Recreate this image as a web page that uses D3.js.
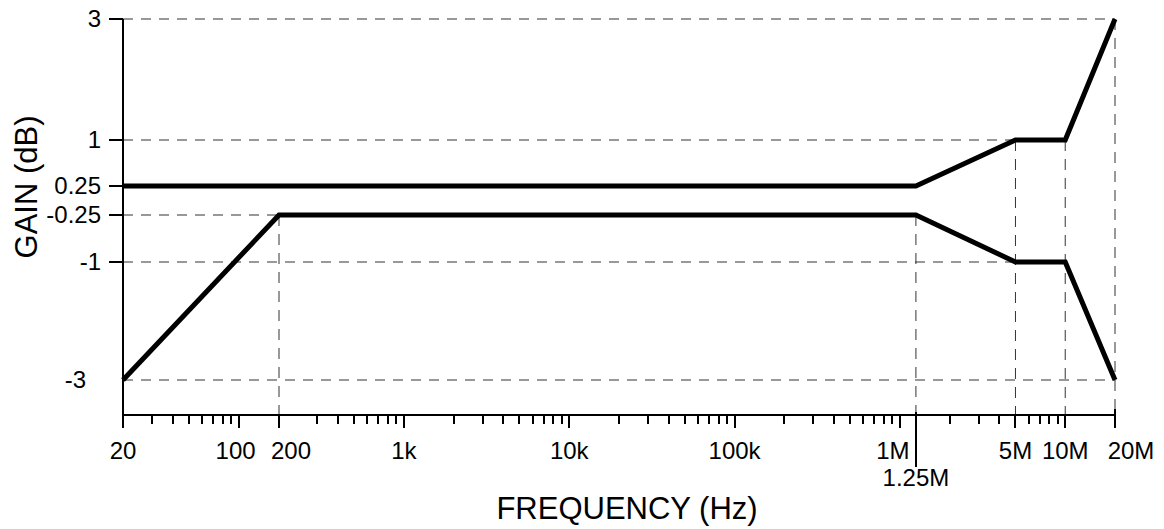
<!DOCTYPE html>
<html>
<head>
<meta charset="utf-8">
<script src="https://cdn.jsdelivr.net/npm/d3@7"></script>
<style>
  body { margin: 0; background: #fff; }
  svg { display: block; }
  text { font-family: "Liberation Sans", Arial, sans-serif; fill: #000; }
</style>
</head>
<body>
<svg id="chart" width="1164" height="529"></svg>
<script>
// Gain tolerance envelope (dB) versus frequency (Hz)
const freqUpper = [20, 1.25e6, 5e6, 1e7, 2e7];
const gainUpper = [0.25, 0.25, 1, 1, 3];
const freqLower = [20, 200, 1.25e6, 5e6, 1e7, 2e7];
const gainLower = [-3, -0.25, -0.25, -1, -1, -3];

// Axis ticks and labels
const gainTicks = [3, 1, 0.25, -0.25, -1, -3];
const gainTickLabels = ["3", "1", "0.25", "-0.25", "-1", "-3"];
const freqMajor = [20, 100, 200, 1e3, 1e4, 1e5, 1e6, 5e6, 1e7, 2e7];
const freqLabels = ["20", "100", "200", "1k", "10k", "100k", "1M", "5M", "10M", "20M"];
const cornerFreq = 1.25e6;
const cornerLabel = "1.25M";

// Dashed guide lines: horizontal [gain, end frequency], vertical [frequency, top gain]
const guideGain = [3, 1, -0.25, -1, -3];
const guideGainEnd = [2e7, 5e6, 200, 5e6, 2e7];
const guideFreq = [200, 1.25e6, 5e6, 1e7, 2e7];
const guideFreqTop = [-0.25, -0.25, 1, 1, 3];

const svg = d3.select("#chart");

// log frequency axis; the 200 Hz corner sits a little left of its true log position
const logX = d3.scaleLog().domain([20, 2e7]).range([123, 1115]);
const xPiece = d3.scaleLinear()
  .domain([20, 100, 200, 300, 2e7].map(Math.log10))
  .range([logX(20), logX(100), 279, logX(300), logX(2e7)]);
const x = f => xPiece(Math.log10(f));

// piecewise gain axis, expanded around 0 dB
const y = d3.scaleLinear().domain(gainTicks).range([19, 140, 186, 215, 262, 380]);
const axisY = 415;
const x0 = x(20);

// guides
const guides = svg.append("g")
  .attr("stroke", "#333").attr("stroke-width", 1).attr("fill", "none");
guides.selectAll("line.h").data(guideGain).join("line")
  .attr("class", "h")
  .attr("x1", x0).attr("x2", (d, i) => x(guideGainEnd[i]))
  .attr("y1", d => y(d)).attr("y2", d => y(d))
  .attr("stroke-dasharray", "10,8");
guides.selectAll("line.v").data(guideFreq).join("line")
  .attr("class", "v")
  .attr("x1", d => x(d)).attr("x2", d => x(d))
  .attr("y1", (d, i) => y(guideFreqTop[i])).attr("y2", axisY)
  .attr("stroke-dasharray", "11,8");

// axis lines
const axes = svg.append("g").attr("stroke", "#000").attr("shape-rendering", "crispEdges");
axes.append("line").attr("x1", x0).attr("x2", x0).attr("y1", y(3)).attr("y2", axisY + 13).attr("stroke-width", 2);
axes.append("line").attr("x1", x0).attr("x2", x(2e7)).attr("y1", axisY).attr("y2", axisY).attr("stroke-width", 2);

// y ticks (none at the bottom value)
axes.selectAll("line.yt").data(gainTicks.slice(0, -1)).join("line")
  .attr("class", "yt")
  .attr("x1", x0 - 14).attr("x2", x0)
  .attr("y1", d => y(d)).attr("y2", d => y(d))
  .attr("stroke-width", 2);

// x ticks: minor decade subdivisions, major labelled values, long corner tick
const allTicks = logX.ticks();
const minor = allTicks.filter(t => !freqMajor.some(m => Math.abs(m - t) / m < 1e-6));
axes.selectAll("line.xm").data(minor).join("line")
  .attr("class", "xm")
  .attr("x1", d => x(d)).attr("x2", d => x(d))
  .attr("y1", axisY).attr("y2", axisY + 9)
  .attr("stroke-width", 2);
axes.selectAll("line.xM").data(freqMajor.slice(1)).join("line")
  .attr("class", "xM")
  .attr("x1", d => x(d)).attr("x2", d => x(d))
  .attr("y1", d => d === 2e7 ? axisY - 6 : axisY).attr("y2", axisY + 13)
  .attr("stroke-width", 2);
axes.append("line")
  .attr("x1", x(cornerFreq)).attr("x2", x(cornerFreq))
  .attr("y1", axisY - 3).attr("y2", axisY + 52)
  .attr("stroke-width", 2);

// envelope curves
const line = d3.line().x(d => x(d[0])).y(d => y(d[1]));
const curves = svg.append("g").attr("fill", "none").attr("stroke", "#000")
  .attr("stroke-width", 5).attr("stroke-linejoin", "miter").attr("stroke-miterlimit", 10);
curves.append("path").attr("d", line(d3.zip(freqUpper, gainUpper)));
curves.append("path").attr("d", line(d3.zip(freqLower, gainLower)));

// y tick labels
svg.append("g").selectAll("text").data(gainTicks).join("text")
  .attr("x", d => d === -3 ? x0 - 37 : x0 - 22)
  .attr("y", d => y(d))
  .attr("dy", "0.35em")
  .attr("text-anchor", "end")
  .attr("font-size", 24)
  .text((d, i) => gainTickLabels[i]);

// x tick labels (a few nudged apart)
const nudge = { "100": -3, "200": 12, "1M": -7, "20M": 16 };
svg.append("g").selectAll("text").data(freqMajor).join("text")
  .attr("x", (d, i) => x(d) + (nudge[freqLabels[i]] || 0))
  .attr("y", 459)
  .attr("text-anchor", "middle")
  .attr("font-size", 24)
  .text((d, i) => freqLabels[i]);
svg.append("text")
  .attr("x", x(cornerFreq)).attr("y", 486)
  .attr("text-anchor", "middle").attr("font-size", 24)
  .text(cornerLabel);

// axis titles
svg.append("text")
  .attr("x", 627).attr("y", 519)
  .attr("text-anchor", "middle").attr("font-size", 31)
  .text("FREQUENCY (Hz)");
svg.append("text")
  .attr("transform", "translate(37,187) rotate(-90)")
  .attr("text-anchor", "middle").attr("font-size", 31)
  .text("GAIN (dB)");
</script>
</body>
</html>
